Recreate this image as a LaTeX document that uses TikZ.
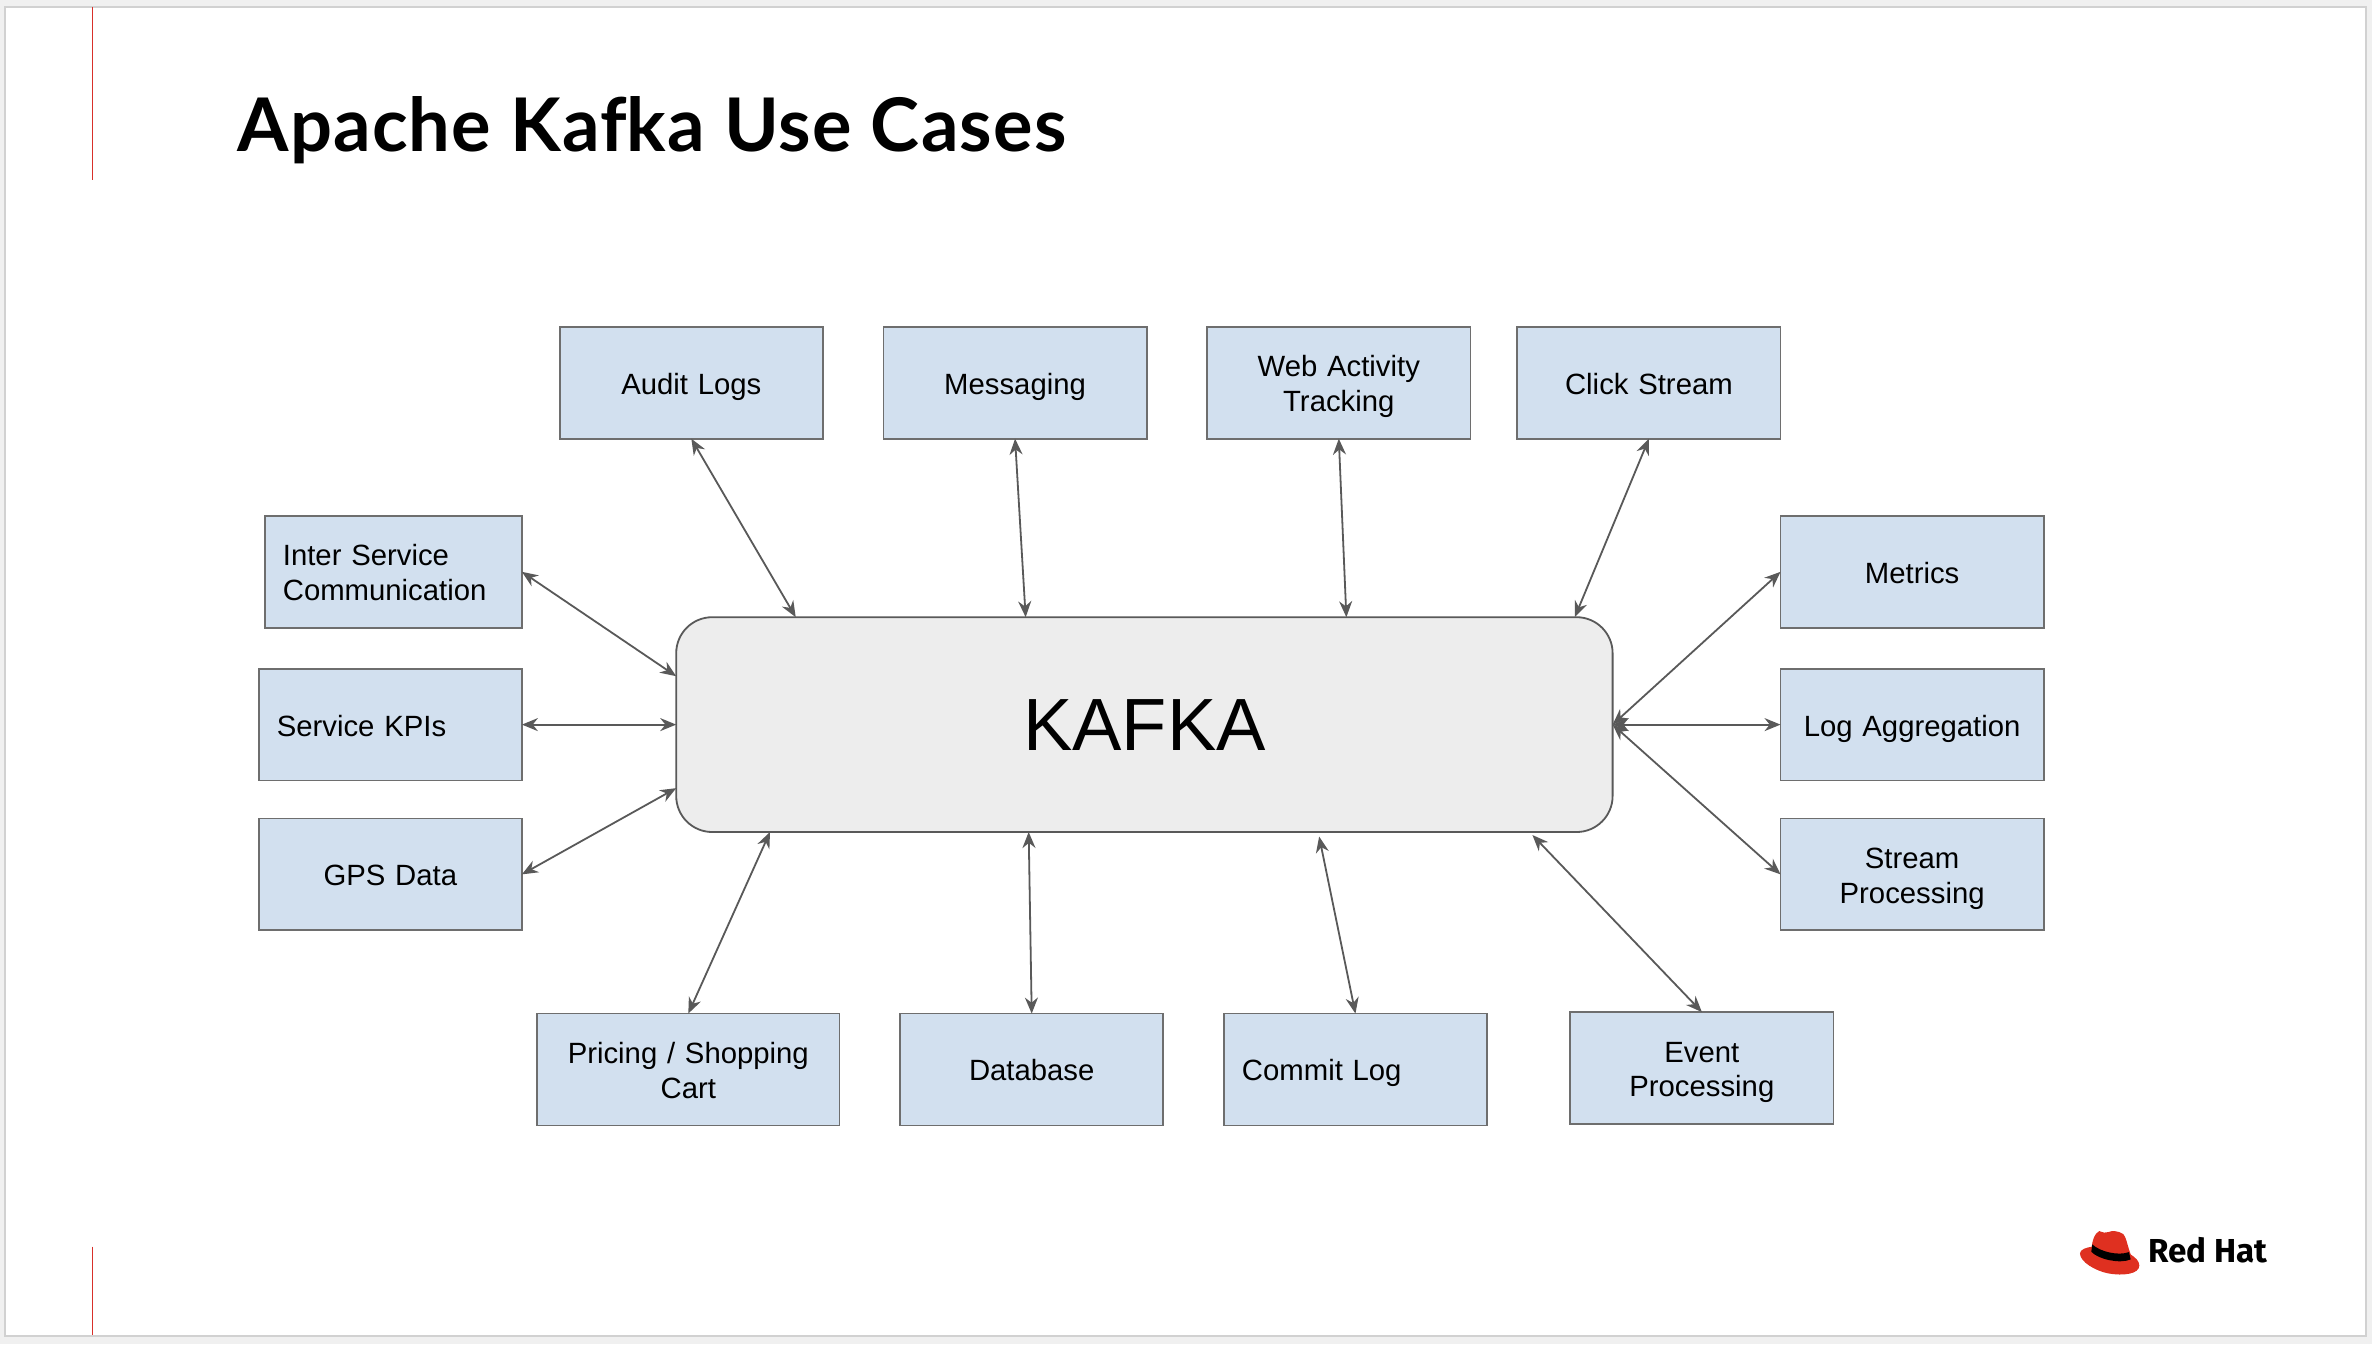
\documentclass[tikz,border=0pt]{standalone}
\usepackage{fontspec}
\setmainfont{Liberation Sans}
\newfontfamily\titlefont[LetterSpace=1.5]{Lato}
\newfontfamily\logofont{Fira Sans}
\usetikzlibrary{arrows.meta,calc}
\newcommand\topstrut{\rule{0pt}{14.9pt}}
\newcommand\botstrut{\rule[-3.5pt]{0pt}{3.5pt}}
\tikzset{
  x=.7564pt,y=-.7564pt,
  usebox/.style 2 args={draw=boxline,fill=boxfill,line width=.9pt,outer sep=0pt,inner sep=0pt,
    minimum width=#1*.7564pt,minimum height=#2*.7564pt,text=black,
    font=\fontsize{14.65}{17.4}\selectfont,execute at begin node=\topstrut,execute at end node=\botstrut},
  ctr/.style={align=center,text width=150*.7564pt},
  lft/.style={align=left,text width=#1*.7564pt},
  link/.style={draw=linkgray,line width=.9pt,{Stealth[length=8pt,width=6.5pt]}-{Stealth[length=8pt,width=6.5pt]}},
  redrule/.style={draw=rulered,line width=.65pt},
}
\definecolor{boxline}{HTML}{6E6E6E}
\definecolor{boxfill}{HTML}{D2E0EF}
\definecolor{linkgray}{HTML}{595959}
\definecolor{rulered}{HTML}{D8302A}
\definecolor{hatred}{HTML}{DF3020}
\begin{document}
\begin{tikzpicture}
\useasboundingbox (0,0) rectangle (1568,888.5);
\fill[black!6] (0,0) rectangle (1568,888.5);
\filldraw[fill=white,draw=black!18,line width=.9pt] (3.5,4.5) rectangle (1564,883);
\draw[redrule] (61,4.5) -- (61,119);
\draw[redrule] (61,824) -- (61,882.5);
\node[anchor=base west,inner sep=0pt,font=\titlefont\bfseries\fontsize{37}{44}\selectfont] (title) at (157,100) {Apache Kaf\kern0pt ka Use Cases};

\node[draw=linkgray,fill=black!7,line width=.9pt,rounded corners=18pt,outer sep=0pt,
  minimum width=619*.7564pt,minimum height=142*.7564pt,font=\fontsize{37}{44}\selectfont] (kafka) at (756.5,479) {KAFKA};

\node[usebox={174}{74},ctr] (audit) at (457,253) {Audit Logs};
\node[usebox={174}{74},ctr] (msg) at (671,253) {Messaging};
\node[usebox={174}{74},ctr] (web) at (885,253) {Web Activity\\Tracking};
\node[usebox={174}{74},ctr] (click) at (1090,253) {Click Stream};
\node[usebox={174}{74},ctr] (metrics) at (1264,378) {Metrics};
\node[usebox={174}{74},ctr] (logagg) at (1264,479) {Log Aggregation};
\node[usebox={174}{74},ctr] (stream) at (1264,578) {Stream\\Processing};
\node[usebox={170}{74},lft=146] (inter) at (260,378) {Inter Service\\Communication};
\node[usebox={174}{74},lft=150] (kpi) at (258,479) {Service KPIs};
\node[usebox={174}{74},ctr] (gps) at (258,578) {GPS Data};
\node[usebox={200}{74},align=center,text width=176*.7564pt] (pricing) at (455,707) {Pricing / Shopping\\Cart};
\node[usebox={174}{74},ctr] (db) at (682,707) {Database};
\node[usebox={174}{74},lft=150] (commit) at (896,707) {Commit Log};
\node[usebox={174}{74},ctr] (event) at (1125,706) {Event\\Processing};

\draw[link] (audit.south) -- ($(kafka.north west)+(79,0)$);
\draw[link] (msg.south) -- ($(kafka.north west)+(231,0)$);
\draw[link] (web.south) -- ($(kafka.north west)+(443,0)$);
\draw[link] (click.south) -- ($(kafka.north west)+(594,0)$);
\draw[link] (metrics.west) -- (kafka.east);
\draw[link] (logagg.west) -- (kafka.east);
\draw[link] (stream.west) -- (kafka.east);
\draw[link] (event.north) -- ($(kafka.south west)+(566,2)$);
\draw[link] (commit.north) -- ($(kafka.south west)+(425,3)$);
\draw[link] (db.north) -- ($(kafka.south west)+(233,0)$);
\draw[link] (pricing.north) -- ($(kafka.south west)+(62,0)$);
\draw[link] (gps.east) -- ($(kafka.south west)+(0,-29)$);
\draw[link] (kpi.east) -- (kafka.west);
\draw[link] (inter.east) -- ($(kafka.north west)+(0,39)$);

\begin{scope}[shift={(1348.5,793.3)},x=.1667pt,y=-.1667pt]
\fill[hatred] (178,93) .. controls (190,98) and (197,99) .. (205,96)
  .. controls (215,91) and (235,92) .. (250,102)
  .. controls (258,110) and (262,135) .. (272,163)
  .. controls (285,172) and (298,182) .. (298,196)
  .. controls (298,222) and (250,228) .. (205,220)
  .. controls (165,212) and (120,185) .. (120,160)
  .. controls (120,148) and (140,142) .. (155,140)
  .. controls (158,120) and (163,100) .. (178,93) -- cycle;
\fill[black] (157,133) .. controls (180,155) and (235,168) .. (267,156)
  -- (272,178) .. controls (240,192) and (175,178) .. (154,155) -- cycle;
\end{scope}
\node[anchor=base west,inner sep=0pt,font=\logofont\bfseries\fontsize{16.6}{18}\selectfont] (logo) at (1420,834.5) {Red Hat};
\end{tikzpicture}
\end{document}
